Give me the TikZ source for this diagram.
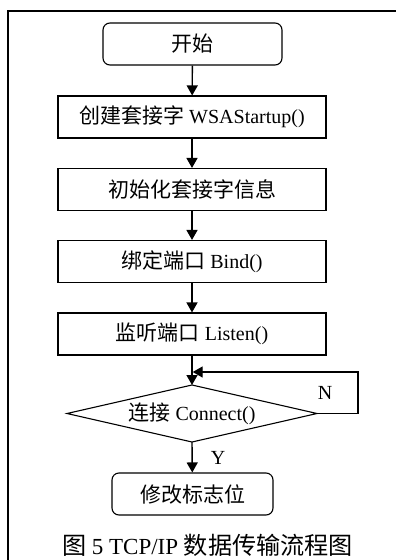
\documentclass[tikz,border=0pt]{standalone}
\usepackage{fontspec}
\setmainfont{Liberation Serif}
\newfontfamily\zhfont[Scale=1.05]{Noto Sans CJK SC}
\newcommand{\zh}[1]{{\zhfont #1}}
\usetikzlibrary{arrows.meta}
\tikzset{
  flow/.style={line width=1.4pt,-{Triangle[length=10pt,width=11pt]}},
  procbox/.style={draw,line width=1.1pt,minimum width=268pt,minimum height=42pt,inner sep=0pt,font=\fontsize{20}{22}\selectfont},
  termbox/.style={procbox,rounded corners=7pt},
  lbl/.style={inner sep=0pt,font=\fontsize{20}{22}\selectfont}
}
\begin{document}
\begin{tikzpicture}[x=1pt,y=-1pt]
\useasboundingbox (0,0) rectangle (396,560);
\fill[white] (0,0) rectangle (396,560);
\draw[line width=2pt] (8,570) -- (8,10.5) -- (400,10.5);
\node[termbox,minimum width=179pt] (start) at (192.5,44) {\zh{开始}};
\node[procbox] (create) at (192,117) {\zh{创建套接字} WSAStartup()};
\node[procbox] (init) at (192,189.5) {\zh{初始化套接字信息}};
\node[procbox] (bind) at (192,261.5) {\zh{绑定端口} Bind()};
\node[procbox] (listen) at (192,334) {\zh{监听端口} Listen()};
\node[lbl] (conn) at (192,413.5) {\zh{连接} Connect()};
\coordinate (dT) at (192,385);
\coordinate (dB) at (192,442);
\coordinate (dL) at (67,413.5);
\coordinate (dR) at (317,413.5);
\draw[line width=1.1pt] (dT) -- (dR) -- (dB) -- (dL) -- cycle;
\node[termbox,minimum width=161pt] (flag) at (192.5,494) {\zh{修改标志位}};
\node[inner sep=0pt,font=\fontsize{23}{25}\selectfont] (cap) at (207.5,545) {\zh{图} 5 TCP/IP \zh{数据传输流程图}};
\coordinate (loopR) at (358,413.5);
\coordinate (join) at (192.7,372);
\draw[flow] (start) -- (create);
\draw[flow] (create) -- (init);
\draw[flow] (init) -- (bind);
\draw[flow] (bind) -- (listen);
\draw[flow] (listen) -- (dT);
\draw[flow] (dB) -- (flag);
\draw[flow] (dR) -- (loopR) |- (join);
\node[lbl] (N) at (325,393) {N};
\node[lbl] (Y) at (218,458) {Y};
\end{tikzpicture}
\end{document}
